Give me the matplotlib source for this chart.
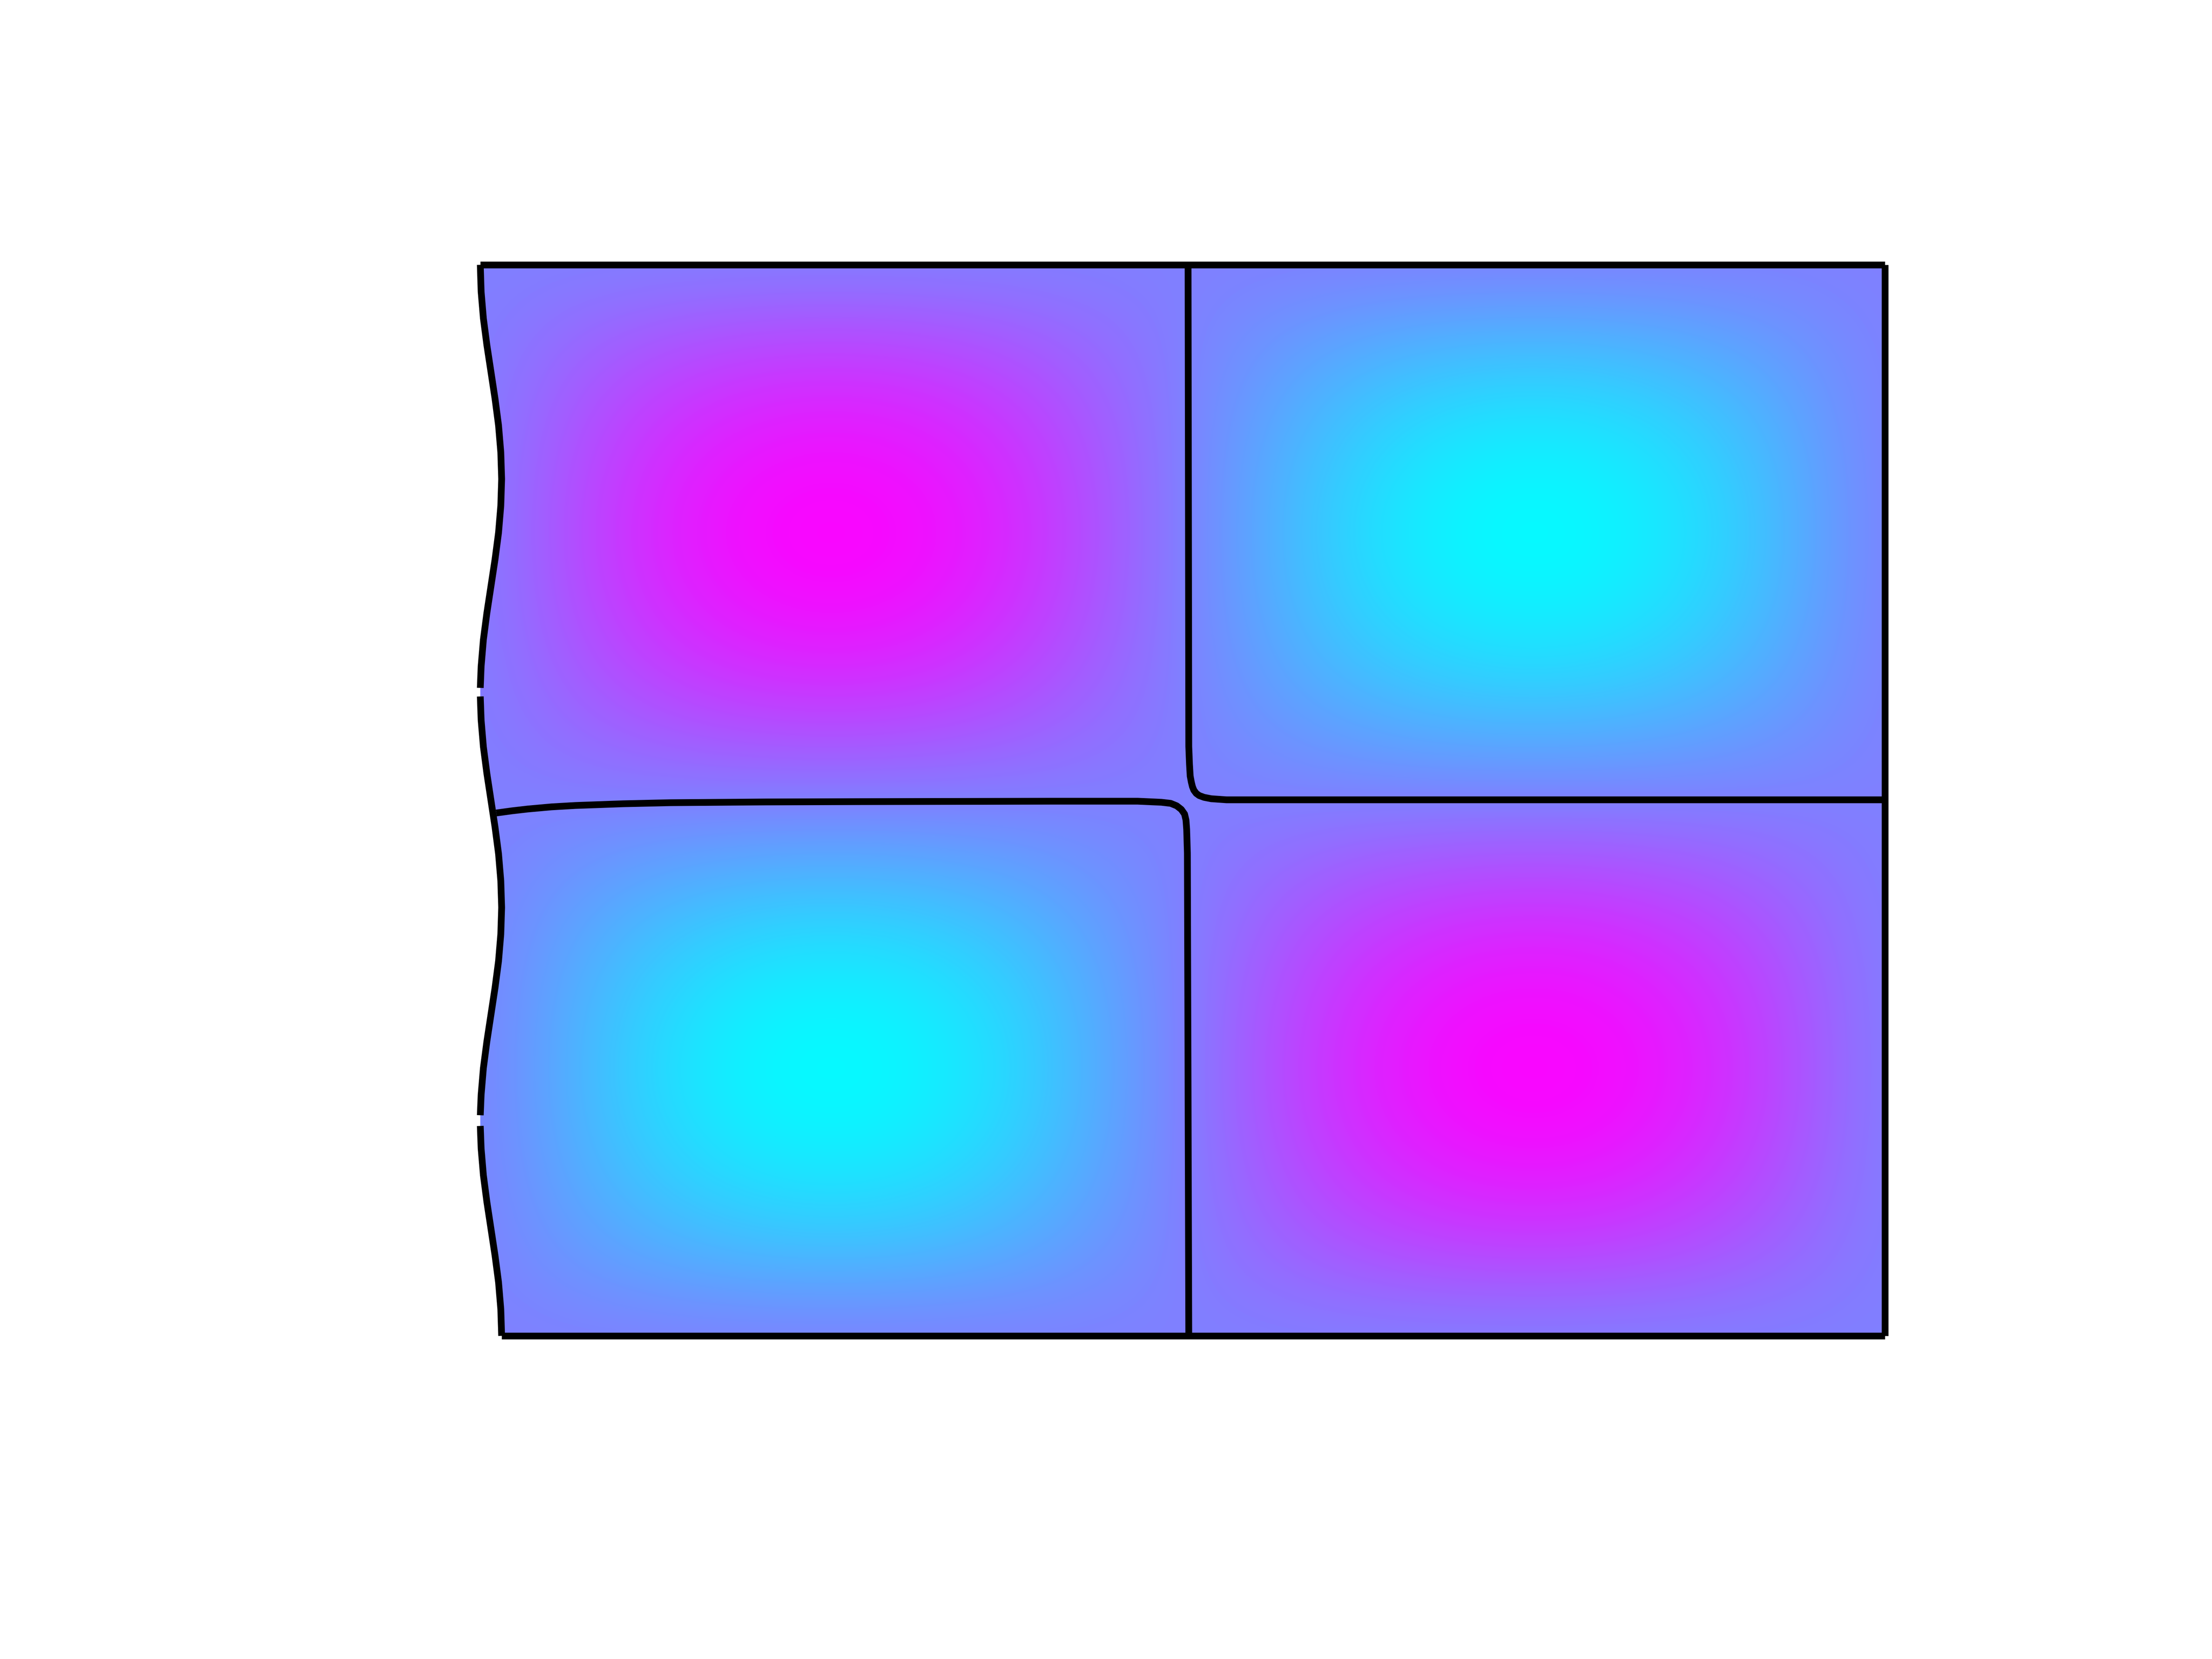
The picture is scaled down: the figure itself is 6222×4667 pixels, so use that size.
import numpy as np
import matplotlib
matplotlib.use("Agg")
import matplotlib.pyplot as plt
from matplotlib.path import Path
from matplotlib.patches import PathPatch

# ---------------------------------
# field (cool map, -1 = cyan, +1 = magenta)
# ---------------------------------
grid_pos = [0.0, 0.0625, 0.125, 0.1875, 0.25, 0.3125, 0.375, 0.4375, 0.5,
            0.5625, 0.625, 0.6875, 0.75, 0.8125, 0.875, 0.9375, 1.0]
profile_x = [0.0, 0.38, 0.71, 0.92, 1.0, 0.92, 0.71, 0.38, 0.0,
             -0.38, -0.71, -0.92, -1.0, -0.92, -0.71, -0.38, 0.0]
profile_y = [0.0, -0.38, -0.71, -0.92, -1.0, -0.92, -0.71, -0.38, 0.0,
             0.38, 0.71, 0.92, 1.0, 0.92, 0.71, 0.38, 0.0]

# wavy left boundary (gaps = nan)
nan = np.nan
edge_y = [1.000, 0.975, 0.950, 0.925, 0.900, 0.875, 0.850, 0.825, 0.800,
          0.775, 0.750, 0.725, 0.700, 0.675, 0.650, 0.625, 0.605, nan,
          0.597, 0.575, 0.550, 0.525, 0.500, 0.475, 0.450, 0.425, 0.400,
          0.375, 0.350, 0.325, 0.300, 0.275, 0.250, 0.225, 0.206, nan,
          0.196, 0.175, 0.150, 0.125, 0.100, 0.075, 0.050, 0.025, 0.000]
edge_x = [0.0, 0.0006, 0.0022, 0.0047, 0.0076, 0.0105, 0.0130, 0.0146, 0.0152,
          0.0146, 0.0130, 0.0105, 0.0076, 0.0047, 0.0022, 0.0006, 0.0, nan,
          0.0, 0.0006, 0.0022, 0.0047, 0.0076, 0.0105, 0.0130, 0.0146, 0.0152,
          0.0146, 0.0130, 0.0105, 0.0076, 0.0047, 0.0022, 0.0006, 0.0, nan,
          0.0, 0.0006, 0.0022, 0.0047, 0.0076, 0.0105, 0.0130, 0.0146, 0.0152]

# contour branches
upper_x = [0.5039, 0.5044, 0.5049, 0.5054, 0.5062, 0.5070, 0.5080, 0.5097,
           0.5118, 0.5153, 0.5204, 0.5313, 1.0]
upper_y = [1.0, 0.5503, 0.5337, 0.5227, 0.5171, 0.5128, 0.5095, 0.5065,
           0.5045, 0.5028, 0.5015, 0.5005, 0.5005]
lower_x = [0.0114, 0.0225, 0.0337, 0.0506, 0.0676, 0.1015, 0.1354, 0.2032,
           0.2708, 0.4065, 0.4680, 0.4849, 0.4915, 0.4958, 0.4991, 0.5014,
           0.5024, 0.5029, 0.5034, 0.5044]
lower_y = [0.4882, 0.4902, 0.4919, 0.4939, 0.4952, 0.4968, 0.4978, 0.4985,
           0.4988, 0.4992, 0.4992, 0.4982, 0.4972, 0.4949, 0.4915, 0.4872,
           0.4816, 0.4729, 0.4507, 0.0]

LW = 1.37

# ---------------------------------
# plot
# ---------------------------------
fig = plt.figure(figsize=(6.222, 4.667), dpi=1000)
ax = fig.add_axes([0.21713, 0.19477, 0.63500, 0.64560])

field = np.outer(profile_y, profile_x)
step = grid_pos[1] - grid_pos[0]
im = ax.imshow(
    field,
    origin="lower",
    cmap="cool",
    vmin=-1,
    vmax=1,
    interpolation="bicubic",
    aspect="auto",
    extent=(grid_pos[0] - step / 2, grid_pos[-1] + step / 2,
            grid_pos[0] - step / 2, grid_pos[-1] + step / 2),
)

# clip to the wavy outline
ex = [x for x in edge_x if not np.isnan(x)]
ey = [y for y in edge_y if not np.isnan(y)]
verts = list(zip(ex, ey)) + [(1.0, 0.0), (1.0, 1.0), (ex[0], ey[0])]
clip = PathPatch(Path(verts, closed=True), transform=ax.transData,
                 facecolor="none", edgecolor="none")
ax.add_patch(clip)
im.set_clip_path(clip)

kw = dict(color="black", lw=LW, solid_capstyle="butt",
          solid_joinstyle="round", clip_on=False)
ax.plot(edge_x, edge_y, **kw)
ax.plot([0.0, 1.0], [1.0, 1.0], **kw)
ax.plot([1.0, 1.0], [1.0, 0.0], **kw)
ax.plot([1.0, edge_x[-1]], [0.0, 0.0], **kw)
ax.plot(upper_x, upper_y, **kw)
ax.plot(lower_x, lower_y, **kw)

ax.set_xlim(0, 1)
ax.set_ylim(0, 1)
ax.axis("off")

fig.savefig("out.png", dpi=1000)
